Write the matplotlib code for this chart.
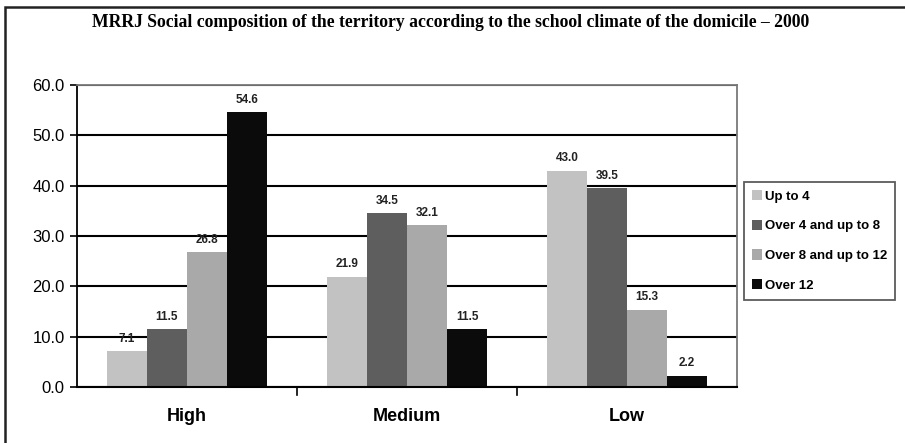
import matplotlib.pyplot as plt
import matplotlib.patches as patches
import numpy as np

# school climate of the domicile, by years of schooling
categories = ['High', 'Medium', 'Low']
series_names = ['Up to 4', 'Over 4 and up to 8', 'Over 8 and up to 12', 'Over 12']
up_to_4 = [7.1, 21.9, 43.0]
over_4_to_8 = [11.5, 34.5, 39.5]
over_8_to_12 = [26.8, 32.1, 15.3]
over_12 = [54.6, 11.5, 2.2]
yticks = [0, 10, 20, 30, 40, 50, 60]

colors = ['#c2c2c2', '#5e5e5e', '#a9a9a9', '#0b0b0b']
series = [up_to_4, over_4_to_8, over_8_to_12, over_12]

plt.rcParams['font.family'] = ['Liberation Sans', 'DejaVu Sans']

fig = plt.figure(figsize=(9.05, 4.43), dpi=100)
ax = fig.add_axes([0.0851, 0.1264, 0.7293, 0.6817])

x = np.arange(len(categories))
width = 0.182
for i, (vals, name, c) in enumerate(zip(series, series_names, colors)):
    pos = x - 1.5 * width + i * width
    ax.bar(pos, vals, width, color=c, label=name, zorder=3)
    for p, v in zip(pos, vals):
        ax.text(p, v + 1.3, '{:.1f}'.format(v), ha='center', va='bottom',
                fontsize=8.5, fontweight='bold', color='#222222', zorder=4)

ax.set_xlim(-0.5, 2.5)
ax.set_ylim(0, 60)
ax.set_yticks(yticks)
ax.set_yticklabels(['{:.1f}'.format(t) for t in yticks], fontsize=12)
ax.set_xticks(x)
ax.set_xticklabels(categories, fontsize=13, fontweight='bold')
ax.tick_params(axis='x', length=0, pad=15)
ax.tick_params(axis='y', length=5, width=1.2, pad=4)
# category separators on the x axis
for b in [0.5, 1.5]:
    ax.plot([b, b], [0, -1.5], color='black', lw=1.2, clip_on=False)

ax.yaxis.grid(True, color='black', lw=1.5, zorder=1)
ax.spines['left'].set_color('black')
ax.spines['left'].set_linewidth(1.3)
ax.spines['bottom'].set_color('black')
ax.spines['bottom'].set_linewidth(1.5)
ax.spines['bottom'].set_zorder(5)
for s in ['top', 'right']:
    ax.spines[s].set_color('#7a7a7a')
    ax.spines[s].set_linewidth(1.3)

fig.text(92 / 905, 0.949, 'MRRJ Social composition of the territory according to the school climate of the domicile \u2013 2000',
         fontsize=12.7, fontweight='bold', family='Liberation Serif', ha='left', va='center')

leg = fig.legend(loc='upper left', bbox_to_anchor=(744 / 905, 1 - 182 / 443),
                 fontsize=9.5, frameon=True, fancybox=False, borderaxespad=0,
                 handlelength=0.8, handleheight=0.8, handletextpad=0.2,
                 labelspacing=1.3, borderpad=0.6)
for t in leg.get_texts():
    t.set_fontweight('bold')
leg.get_frame().set_edgecolor('#333333')
leg.get_frame().set_linewidth(1.3)

# outer chart border
fig.patches.append(patches.Rectangle((5 / 905, -0.1), 1.1, 0.984 + 0.1, transform=fig.transFigure,
                                     fill=False, edgecolor='#222222', lw=1.8))

fig.savefig('out.png', dpi=100)
